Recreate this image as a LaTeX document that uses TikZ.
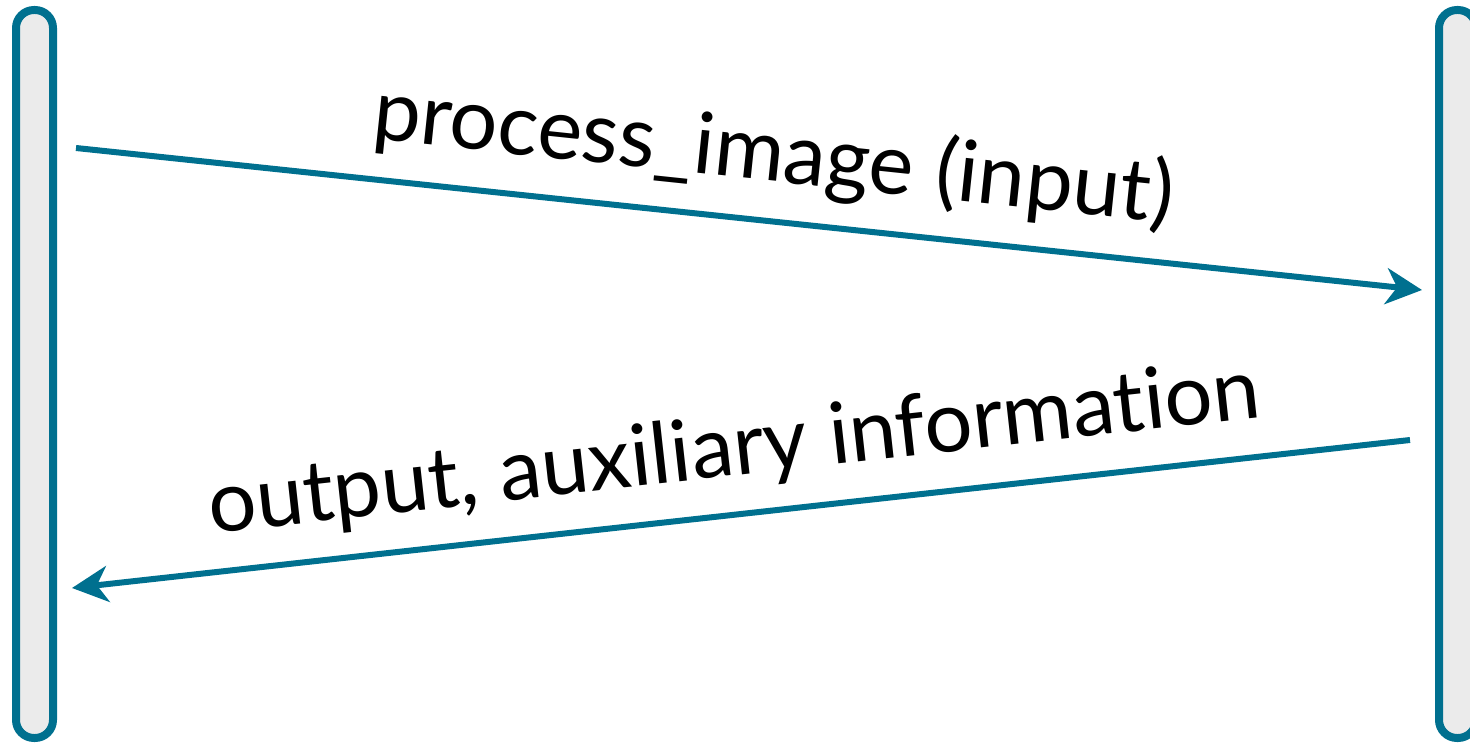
\documentclass[tikz,border=0pt]{standalone}
\usepackage{fontspec}
\setsansfont{Lato}[Ligatures={NoCommon}]
\usetikzlibrary{arrows.meta, positioning, calc}
\definecolor{cteal}{HTML}{00708F}
\definecolor{cbar}{HTML}{EBEBEB}
\tikzset{
  every picture/.style={font=\sffamily},
  lifeline/.style={draw=cteal, fill=cbar, rounded corners=18pt, line width=8pt, minimum width=37pt, minimum height=728pt, inner sep=0pt},
  msg/.style={-{Stealth[length=36pt, width=36pt, inset=11pt]}, draw=cteal, line width=6pt},
  msgtext/.style={font=\sffamily\fontsize{85}{100}\selectfont, sloped, inner sep=0pt},
}

\begin{document}
\begin{tikzpicture}[x=1pt, y=-1pt]
  \useasboundingbox (0,0) rectangle (1470,743);
  \clip (0,0) rectangle (1470,743);

  % ---- lifelines
  \node[lifeline] (caller) at (34.5,374) {};
  \node[lifeline] (callee) at (1457.5,374) {};

  % ---- message ends
  \coordinate (callout)  at (76,148);
  \coordinate (callin)   at (1422,290);
  \coordinate (retout)   at (1410,440);
  \coordinate (retin)    at (72,588);

  \draw[msg] (callout) -- node[msgtext, pos=.513, above=40pt, anchor=base] (calltext) {process\_image (input)} (callin);
  \draw[msg] (retout) -- node[msgtext, pos=.5, above=39pt, anchor=base] (rettext) {output, auxiliary information} (retin);
\end{tikzpicture}
\end{document}
